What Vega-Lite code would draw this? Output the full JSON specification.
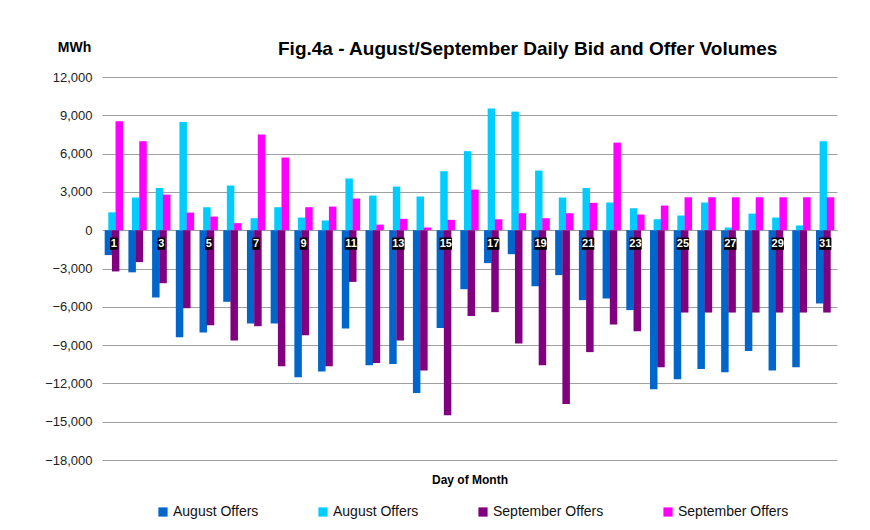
{
  "$schema": "https://vega.github.io/schema/vega-lite/v6.json",
  "autosize": {"type": "none"},
  "width": 735,
  "height": 383,
  "padding": {"left": 102, "top": 77, "right": 33, "bottom": 70},
  "background": "white",
  "config": {
    "font": "Liberation Sans",
    "view": {"stroke": null}
  },
  "title": {
    "text": "Fig.4a - August/September Daily Bid and Offer Volumes",
    "fontSize": 19,
    "fontWeight": "bold",
    "color": "#000000",
    "anchor": "start",
    "frame": "group",
    "dx": 176,
    "dy": 39,
    "offset": 20
  },
  "data": {
    "values": [
      {"day": 1, "series": "August Bids", "value": -1950}, {"day": 1, "series": "August Offers", "value": 1400}, {"day": 1, "series": "September Bids", "value": -3230}, {"day": 1, "series": "September Offers", "value": 8530},
      {"day": 2, "series": "August Bids", "value": -3300}, {"day": 2, "series": "August Offers", "value": 2560}, {"day": 2, "series": "September Bids", "value": -2500}, {"day": 2, "series": "September Offers", "value": 6970},
      {"day": 3, "series": "August Bids", "value": -5270}, {"day": 3, "series": "August Offers", "value": 3310}, {"day": 3, "series": "September Bids", "value": -4150}, {"day": 3, "series": "September Offers", "value": 2790},
      {"day": 4, "series": "August Bids", "value": -8380}, {"day": 4, "series": "August Offers", "value": 8480}, {"day": 4, "series": "September Bids", "value": -6110}, {"day": 4, "series": "September Offers", "value": 1380},
      {"day": 5, "series": "August Bids", "value": -8010}, {"day": 5, "series": "August Offers", "value": 1800}, {"day": 5, "series": "September Bids", "value": -7440}, {"day": 5, "series": "September Offers", "value": 1070},
      {"day": 6, "series": "August Bids", "value": -5610}, {"day": 6, "series": "August Offers", "value": 3500}, {"day": 6, "series": "September Bids", "value": -8640}, {"day": 6, "series": "September Offers", "value": 550},
      {"day": 7, "series": "August Bids", "value": -7310}, {"day": 7, "series": "August Offers", "value": 940}, {"day": 7, "series": "September Bids", "value": -7520}, {"day": 7, "series": "September Offers", "value": 7490},
      {"day": 8, "series": "August Bids", "value": -7310}, {"day": 8, "series": "August Offers", "value": 1800}, {"day": 8, "series": "September Bids", "value": -10650}, {"day": 8, "series": "September Offers", "value": 5690},
      {"day": 9, "series": "August Bids", "value": -11510}, {"day": 9, "series": "August Offers", "value": 990}, {"day": 9, "series": "September Bids", "value": -8220}, {"day": 9, "series": "September Offers", "value": 1800},
      {"day": 10, "series": "August Bids", "value": -11070}, {"day": 10, "series": "August Offers", "value": 760}, {"day": 10, "series": "September Bids", "value": -10650}, {"day": 10, "series": "September Offers", "value": 1850},
      {"day": 11, "series": "August Bids", "value": -7700}, {"day": 11, "series": "August Offers", "value": 4050}, {"day": 11, "series": "September Bids", "value": -4050}, {"day": 11, "series": "September Offers", "value": 2480},
      {"day": 12, "series": "August Bids", "value": -10570}, {"day": 12, "series": "August Offers", "value": 2710}, {"day": 12, "series": "September Bids", "value": -10410}, {"day": 12, "series": "September Offers", "value": 440},
      {"day": 13, "series": "August Bids", "value": -10490}, {"day": 13, "series": "August Offers", "value": 3420}, {"day": 13, "series": "September Bids", "value": -8640}, {"day": 13, "series": "September Offers", "value": 890},
      {"day": 14, "series": "August Bids", "value": -12760}, {"day": 14, "series": "August Offers", "value": 2640}, {"day": 14, "series": "September Bids", "value": -10990}, {"day": 14, "series": "September Offers", "value": 210},
      {"day": 15, "series": "August Bids", "value": -7670}, {"day": 15, "series": "August Offers", "value": 4620}, {"day": 15, "series": "September Bids", "value": -14490}, {"day": 15, "series": "September Offers", "value": 810},
      {"day": 16, "series": "August Bids", "value": -4620}, {"day": 16, "series": "August Offers", "value": 6190}, {"day": 16, "series": "September Bids", "value": -6730}, {"day": 16, "series": "September Offers", "value": 3180},
      {"day": 17, "series": "August Bids", "value": -2580}, {"day": 17, "series": "August Offers", "value": 9530}, {"day": 17, "series": "September Bids", "value": -6420}, {"day": 17, "series": "September Offers", "value": 860},
      {"day": 18, "series": "August Bids", "value": -1880}, {"day": 18, "series": "August Offers", "value": 9290}, {"day": 18, "series": "September Bids", "value": -8870}, {"day": 18, "series": "September Offers", "value": 1330},
      {"day": 19, "series": "August Bids", "value": -4390}, {"day": 19, "series": "August Offers", "value": 4670}, {"day": 19, "series": "September Bids", "value": -10570}, {"day": 19, "series": "September Offers", "value": 940},
      {"day": 20, "series": "August Bids", "value": -3520}, {"day": 20, "series": "August Offers", "value": 2560}, {"day": 20, "series": "September Bids", "value": -13620}, {"day": 20, "series": "September Offers", "value": 1330},
      {"day": 21, "series": "August Bids", "value": -5480}, {"day": 21, "series": "August Offers", "value": 3310}, {"day": 21, "series": "September Bids", "value": -9550}, {"day": 21, "series": "September Offers", "value": 2140},
      {"day": 22, "series": "August Bids", "value": -5350}, {"day": 22, "series": "August Offers", "value": 2170}, {"day": 22, "series": "September Bids", "value": -7390}, {"day": 22, "series": "September Offers", "value": 6860},
      {"day": 23, "series": "August Bids", "value": -6260}, {"day": 23, "series": "August Offers", "value": 1720}, {"day": 23, "series": "September Bids", "value": -7910}, {"day": 23, "series": "September Offers", "value": 1230},
      {"day": 24, "series": "August Bids", "value": -12450}, {"day": 24, "series": "August Offers", "value": 860}, {"day": 24, "series": "September Bids", "value": -10730}, {"day": 24, "series": "September Offers", "value": 1930},
      {"day": 25, "series": "August Bids", "value": -11670}, {"day": 25, "series": "August Offers", "value": 1150}, {"day": 25, "series": "September Bids", "value": -6450}, {"day": 25, "series": "September Offers", "value": 2580},
      {"day": 26, "series": "August Bids", "value": -10880}, {"day": 26, "series": "August Offers", "value": 2170}, {"day": 26, "series": "September Bids", "value": -6450}, {"day": 26, "series": "September Offers", "value": 2580},
      {"day": 27, "series": "August Bids", "value": -11120}, {"day": 27, "series": "August Offers", "value": 210}, {"day": 27, "series": "September Bids", "value": -6450}, {"day": 27, "series": "September Offers", "value": 2580},
      {"day": 28, "series": "August Bids", "value": -9470}, {"day": 28, "series": "August Offers", "value": 1300}, {"day": 28, "series": "September Bids", "value": -6450}, {"day": 28, "series": "September Offers", "value": 2580},
      {"day": 29, "series": "August Bids", "value": -10990}, {"day": 29, "series": "August Offers", "value": 990}, {"day": 29, "series": "September Bids", "value": -6450}, {"day": 29, "series": "September Offers", "value": 2580},
      {"day": 30, "series": "August Bids", "value": -10730}, {"day": 30, "series": "August Offers", "value": 370}, {"day": 30, "series": "September Bids", "value": -6450}, {"day": 30, "series": "September Offers", "value": 2580},
      {"day": 31, "series": "August Bids", "value": -5740}, {"day": 31, "series": "August Offers", "value": 6970}, {"day": 31, "series": "September Bids", "value": -6450}, {"day": 31, "series": "September Offers", "value": 2580}
    ]
  },
  "encoding": {
    "x": {
      "field": "day",
      "type": "ordinal",
      "scale": {"paddingInner": 0.39, "paddingOuter": 0.195},
      "axis": {
        "title": "Day of Month",
        "labels": false,
        "ticks": false,
        "domain": false,
        "grid": false,
        "titleFontSize": 12,
        "titleFontWeight": "bold",
        "titleColor": "#000000",
        "titlePadding": 14
      }
    },
    "y": {
      "field": "value",
      "type": "quantitative",
      "scale": {"domain": [-18000, 12000], "nice": false, "zero": false},
      "axis": {
        "values": [-18000, -15000, -12000, -9000, -6000, -3000, 0, 3000, 6000, 9000, 12000],
        "format": ",.0f",
        "labelFontSize": 13,
        "labelColor": "#222222",
        "labelPadding": 10,
        "labelOverlap": false,
        "domain": false,
        "ticks": false,
        "grid": true,
        "gridColor": "#a0a0a0",
        "gridWidth": 1,
        "title": "MWh",
        "titleAngle": 0,
        "titleFontSize": 14,
        "titleFontWeight": "bold",
        "titleColor": "#000000",
        "titleAlign": "center",
        "titleBaseline": "middle",
        "titleX": -28,
        "titleY": -30
      }
    }
  },
  "layer": [
    {
      "mark": {"type": "bar", "width": 7.5},
      "encoding": {
        "xOffset": {
          "field": "series",
          "type": "nominal",
          "scale": {"domain": ["August Bids", "August Offers", "September Bids", "September Offers"], "paddingInner": 0, "paddingOuter": 0}
        },
        "color": {
          "field": "series",
          "type": "nominal",
          "scale": {
            "domain": ["August Bids", "August Offers", "September Bids", "September Offers"],
            "range": ["#0066cc", "#00ccff", "#800080", "#ff00ff"]
          },
          "legend": {
            "title": null,
            "orient": "none",
            "direction": "horizontal",
            "legendX": 54,
            "legendY": 428,
            "columnPadding": 57,
            "symbolType": "square",
            "symbolSize": 85,
            "symbolStrokeWidth": 0,
            "labelFontSize": 14,
            "labelColor": "#111111",
            "labelOffset": 3,
            "labelExpr": "replace(datum.label, 'Bids', 'Offers')"
          }
        }
      }
    },
    {
      "transform": [{"filter": "datum.series == 'August Bids' && datum.day % 2 == 1"}],
      "mark": {"type": "bar", "color": "#000000"},
      "encoding": {
        "y": {"datum": -580},
        "y2": {"datum": -1540},
        "size": {"condition": {"test": "datum.day < 10", "value": 7.5}, "value": 12.5}
      }
    },
    {
      "transform": [{"filter": "datum.series == 'August Bids' && datum.day % 2 == 1"}],
      "mark": {"type": "text", "color": "#ffffff", "fontWeight": "bold", "fontSize": 11, "baseline": "middle", "align": "center"},
      "encoding": {
        "y": {"datum": -1060},
        "text": {"field": "day", "type": "nominal"}
      }
    }
  ]
}
